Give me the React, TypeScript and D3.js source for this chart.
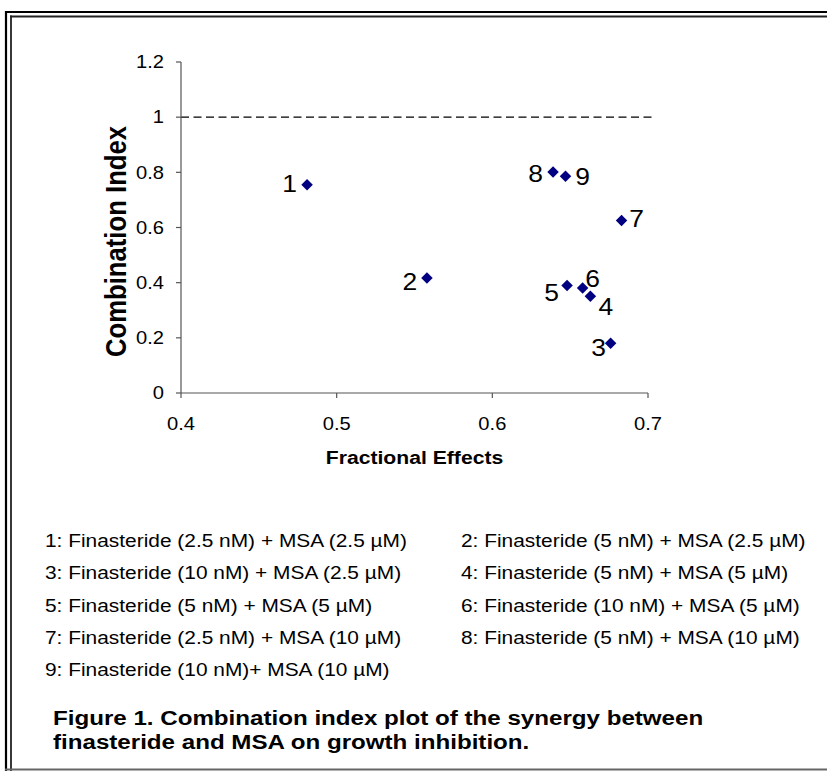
import React from "react";
import * as d3 from "d3";

// ---- data ----
const pointLabels = ["1", "2", "3", "4", "5", "6", "7", "8", "9"];
const fractionalEffects = [0.481, 0.558, 0.676, 0.663, 0.648, 0.658, 0.683, 0.639, 0.647];
const combinationIndex = [0.755, 0.417, 0.18, 0.351, 0.39, 0.381, 0.625, 0.801, 0.786];
const xTicks = [0.4, 0.5, 0.6, 0.7];
const xTickLabels = ["0.4", "0.5", "0.6", "0.7"];
const yTicks = [0, 0.2, 0.4, 0.6, 0.8, 1, 1.2];
const yTickLabels = ["0", "0.2", "0.4", "0.6", "0.8", "1", "1.2"];
const referenceLine = [1];
const legendEntries = [
  "1: Finasteride (2.5 nM) + MSA (2.5 \u00B5M)",
  "2: Finasteride (5 nM) + MSA (2.5 \u00B5M)",
  "3: Finasteride (10 nM) + MSA (2.5 \u00B5M)",
  "4: Finasteride (5 nM) + MSA (5 \u00B5M)",
  "5: Finasteride (5 nM) + MSA (5 \u00B5M)",
  "6: Finasteride (10 nM) + MSA (5 \u00B5M)",
  "7: Finasteride (2.5 nM) + MSA (10 \u00B5M)",
  "8: Finasteride (5 nM) + MSA (10 \u00B5M)",
  "9: Finasteride (10 nM)+ MSA (10 \u00B5M)",
];
const captionLines = [
  "Figure 1. Combination index plot of the synergy between",
  "finasteride and MSA on growth inhibition.",
];
const xTitle = "Fractional Effects";
const yTitle = "Combination Index";

// ---- layout / style ----
const W = 827;
const H = 771;
const SX = 1.15; // horizontal stretch of the glyphs in the reference
const FONT = "'Liberation Sans', Arial, Helvetica, sans-serif";
// label offsets (dx, dy of label centre from its point)
const labelOffsets: [number, number][] = [
  [-17.5, -1.5],
  [-17, 3.5],
  [-12, 4.5],
  [15.5, 10.5],
  [-15.5, 7.5],
  [10, -9.5],
  [15, -1.5],
  [-17.5, 2],
  [17, 0.5],
];

function T(props: {
  x: number;
  y: number;
  size: number;
  anchor?: string;
  weight?: string | number;
  sx?: number;
  fill?: string;
  children: React.ReactNode;
}) {
  const { x, y, size, anchor = "start", weight = "normal", sx = SX, fill = "#000", children } = props;
  return (
    <text
      transform={`translate(${x},${y}) scale(${sx},1)`}
      textAnchor={anchor as any}
      fontSize={size}
      fontWeight={weight as any}
      fontFamily={FONT}
      fill={fill}
    >
      {children}
    </text>
  );
}

export default function App() {
  const x = d3.scaleLinear().domain([0.4, 0.7]).range([181, 648]);
  const y = d3.scaleLinear().domain([0, 1.2]).range([393, 62]);
  const diamond = d3.symbol().type(d3.symbolSquare).size(66)() as string;

  const axisColor = "#555";
  const legendCols = [45, 461];
  const legendY0 = 547;
  const legendDy = 32.3;

  return (
    <svg
      width={W}
      height={H}
      viewBox={`0 0 ${W} ${H}`}
      style={{ position: "absolute", left: 0, top: 0, background: "#fff" }}
    >
      <rect x={0} y={0} width={W} height={H} fill="#fff" />
      {/* frame */}
      <line x1={5} x2={W} y1={12} y2={12} stroke="#000" strokeWidth={2.2} />
      <line x1={10} x2={W} y1={16.5} y2={16.5} stroke="#222" strokeWidth={1.8} />
      <line x1={6} x2={6} y1={11} y2={H} stroke="#000" strokeWidth={2.2} />
      <line x1={11} x2={11} y1={15.5} y2={H} stroke="#222" strokeWidth={1.8} />
      <line x1={5} x2={W} y1={769.5} y2={769.5} stroke="#666" strokeWidth={2} />

      {/* reference line */}
      {referenceLine.map((v, i) => (
        <line
          key={i}
          x1={x(0.4)}
          x2={x(0.7) + 6}
          y1={y(v)}
          y2={y(v)}
          stroke="#000"
          strokeWidth={1.4}
          strokeDasharray="8,4.5"
        />
      ))}

      {/* y axis */}
      <line x1={x(0.4)} x2={x(0.4)} y1={y(1.2)} y2={y(0)} stroke={axisColor} strokeWidth={1.2} />
      {yTicks.map((t, i) => (
        <g key={i}>
          <line x1={x(0.4) - 5} x2={x(0.4)} y1={y(t)} y2={y(t)} stroke={axisColor} strokeWidth={1.2} />
          <T x={164} y={y(t) + 6.3} size={17.5} anchor="end">
            {yTickLabels[i]}
          </T>
        </g>
      ))}

      {/* x axis */}
      <line x1={x(0.4)} x2={x(0.7)} y1={y(0)} y2={y(0)} stroke={axisColor} strokeWidth={1.2} />
      {xTicks.map((t, i) => (
        <g key={i}>
          <line x1={x(t)} x2={x(t)} y1={y(0)} y2={y(0) + 5} stroke={axisColor} strokeWidth={1.2} />
          <T x={x(t)} y={430} size={17.5} anchor="middle">
            {xTickLabels[i]}
          </T>
        </g>
      ))}

      {/* axis titles */}
      <T x={(x(0.4) + x(0.7)) / 2} y={463.5} size={18.4} anchor="middle" weight="bold">
        {xTitle}
      </T>
      <g transform={`translate(126,241.5) scale(${SX},1) rotate(-90)`}>
        <text textAnchor="middle" fontSize={25.7} fontWeight="bold" fontFamily={FONT} fill="#000">
          {yTitle}
        </text>
      </g>

      {/* points */}
      {fractionalEffects.map((fe, i) => (
        <path
          key={i}
          d={diamond}
          transform={`translate(${x(fe)},${y(combinationIndex[i])}) rotate(45)`}
          fill="#000080"
        />
      ))}
      {fractionalEffects.map((fe, i) => (
        <T
          key={"l" + i}
          x={x(fe) + labelOffsets[i][0]}
          y={y(combinationIndex[i]) + labelOffsets[i][1] + 8.3}
          size={23}
          anchor="middle"
        >
          {pointLabels[i]}
        </T>
      ))}

      {/* legend */}
      {legendEntries.map((s, k) => (
        <T
          key={k}
          x={legendCols[k % 2]}
          y={legendY0 + Math.floor(k / 2) * legendDy}
          size={18.5}
          sx={1.13}
        >
          {s}
        </T>
      ))}

      {/* caption */}
      {captionLines.map((s, k) => (
        <T key={k} x={53} y={725 + k * 23.5} size={21} weight="bold" sx={1.15}>
          {s}
        </T>
      ))}
    </svg>
  );
}
